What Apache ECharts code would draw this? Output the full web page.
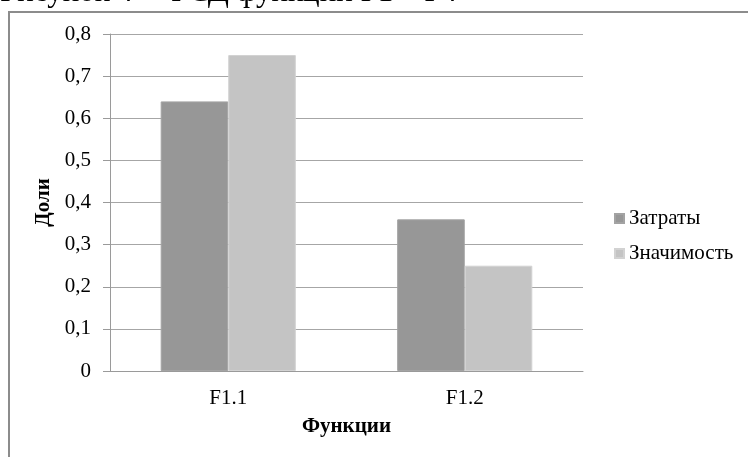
<!DOCTYPE html>
<html>
<head>
<meta charset="utf-8">
<script src="https://cdn.jsdelivr.net/npm/echarts@6/dist/echarts.min.js"></script>
<style>
  html, body { margin: 0; padding: 0; background: #fff; }
  #chart { width: 748px; height: 457px; }
</style>
</head>
<body>
<div id="chart"></div>
<script>
// Функции и их доли
const categories = ['F1.1', 'F1.2'];
const costs = [0.64, 0.36];        // Затраты
const importance = [0.75, 0.25];   // Значимость
const yTicks = { min: 0, max: 0.8, interval: 0.1 };

const serif = '"Liberation Serif", "Times New Roman", serif';

const chart = echarts.init(document.getElementById('chart'), null, { renderer: 'canvas' });

chart.setOption({
  backgroundColor: '#ffffff',
  animation: false,
  textStyle: { fontFamily: serif, color: '#000' },
  graphic: [
    {
      type: 'text',
      left: 0,
      top: -23,
      style: {
        text: 'Рисунок 4 – ФСД функции F1 – F4',
        font: '31px ' + serif,
        fill: '#000'
      }
    },
    {
      type: 'rect',
      shape: { x: 9, y: 12, width: 800, height: 500 },
      style: { fill: 'none', stroke: '#8c8c8c', lineWidth: 2 },
      z: -1
    }
  ],
  grid: { left: 110, right: 165, top: 34, bottom: 86, containLabel: false },
  legend: {
    orient: 'vertical',
    left: 614,
    top: 208,
    padding: 0,
    itemWidth: 9,
    itemHeight: 9,
    itemGap: 14,
    icon: 'rect',
    textStyle: { fontFamily: serif, fontSize: 21, color: '#000' },
    data: ['Затраты', 'Значимость']
  },
  xAxis: {
    type: 'category',
    data: categories,
    name: 'Функции',
    nameLocation: 'middle',
    nameGap: 45,
    nameTextStyle: { fontFamily: serif, fontSize: 21, fontWeight: 'bold', color: '#000' },
    axisLine: { lineStyle: { color: '#9a9a9a', width: 1 } },
    axisTick: { length: 6, lineStyle: { color: '#9a9a9a' } },
    axisLabel: { fontFamily: serif, fontSize: 21, color: '#000', margin: 17 }
  },
  yAxis: {
    type: 'value',
    min: yTicks.min,
    max: yTicks.max,
    interval: yTicks.interval,
    name: 'Доли',
    nameLocation: 'middle',
    nameGap: 48,
    nameRotate: 90,
    nameTextStyle: { fontFamily: serif, fontSize: 21, fontWeight: 'bold', color: '#000' },
    axisLine: { show: true, lineStyle: { color: '#9a9a9a', width: 1 } },
    axisTick: { show: true, length: 7, lineStyle: { color: '#9a9a9a' } },
    axisLabel: {
      fontFamily: serif, fontSize: 21, color: '#000', margin: 19,
      formatter: v => String(Math.round(v * 10) / 10).replace('.', ',')
    },
    splitLine: { lineStyle: { color: '#a6a6a6', width: 1 } }
  },
  series: [
    {
      name: 'Затраты',
      type: 'bar',
      data: costs,
      barGap: '0%',
      barCategoryGap: '42.86%',
      itemStyle: { color: '#979797', borderColor: '#a3a3a3', borderWidth: 1 }
    },
    {
      name: 'Значимость',
      type: 'bar',
      data: importance,
      barGap: '0%',
      barCategoryGap: '42.86%',
      itemStyle: { color: '#c4c4c4', borderColor: '#d2d2d2', borderWidth: 1 }
    }
  ]
});
</script>
</body>
</html>
